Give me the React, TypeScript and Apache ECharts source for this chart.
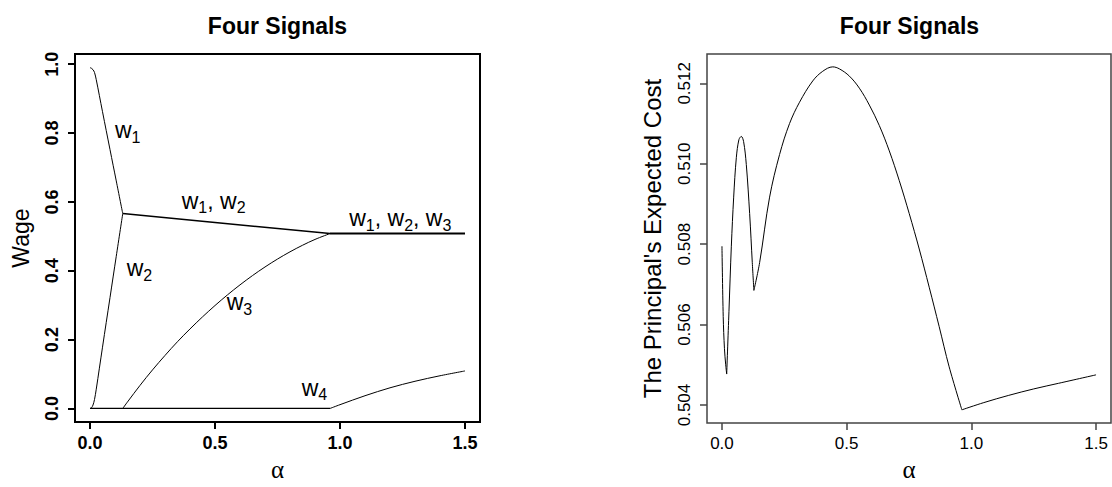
import React, { useEffect, useRef } from 'react';
import * as echarts from 'echarts';

const TITLE = 'Four Signals';
const X_NAME = 'α';
const LEFT_Y_NAME = 'Wage';
const RIGHT_Y_NAME = "The Principal's Expected Cost";
const X_TICKS = [0, 0.5, 1.0, 1.5];
const WAGE_TICKS = [0, 0.2, 0.4, 0.6, 0.8, 1.0];
const COST_TICKS = [0.504, 0.506, 0.508, 0.51, 0.512];

// Left panel: pieces of the wage curves between kinks
const W1_BRANCH: number[][] = [
  [0, 0.99], [0.006, 0.988], [0.012, 0.984], [0.018, 0.976], [0.025, 0.955],
  [0.05, 0.862], [0.08, 0.752], [0.105, 0.661], [0.131, 0.566],
];
const W2_BRANCH: number[][] = [
  [0, 0], [0.006, 0.002], [0.012, 0.01], [0.018, 0.026], [0.025, 0.056],
  [0.05, 0.178], [0.08, 0.322], [0.105, 0.442], [0.131, 0.566],
];
const W12_LINE: number[][] = [[0.131, 0.566], [0.5, 0.54], [0.96, 0.508]];
const W123_LINE: number[][] = [[0.96, 0.508], [1.5, 0.508]];
const W3_BRANCH: number[][] = [
  [0.131, 0], [0.15, 0.019], [0.2, 0.067], [0.25, 0.112], [0.3, 0.154],
  [0.35, 0.194], [0.4, 0.231], [0.45, 0.266], [0.5, 0.299], [0.55, 0.33],
  [0.6, 0.359], [0.65, 0.386], [0.7, 0.411], [0.75, 0.434], [0.8, 0.455],
  [0.85, 0.474], [0.9, 0.491], [0.96, 0.508],
];
const ZERO_LINE: number[][] = [[0, 0], [0.96, 0]];
const W4_BRANCH: number[][] = [
  [0.96, 0], [1.0, 0.011], [1.1, 0.037], [1.2, 0.06], [1.3, 0.079],
  [1.4, 0.095], [1.5, 0.109],
];

// Right panel: expected cost, pieces between kinks
const COST_A: number[][] = [
  [0, 0.50795], [0.005, 0.5062], [0.01, 0.5054], [0.015, 0.505], [0.019, 0.50477],
];
const COST_B: number[][] = [
  [0.019, 0.50477], [0.028, 0.50632], [0.0376, 0.50795], [0.047, 0.50917],
  [0.0576, 0.51015], [0.068, 0.5106], [0.0776, 0.51068], [0.0868, 0.51055],
  [0.0976, 0.50998], [0.111, 0.50876], [0.1216, 0.50754], [0.128, 0.50685],
];
const COST_C: number[][] = [
  [0.128, 0.50685], [0.151, 0.50754], [0.191, 0.50917], [0.231, 0.51023],
  [0.271, 0.511], [0.311, 0.51153], [0.364, 0.51206], [0.404, 0.5123],
  [0.444, 0.51241], [0.471, 0.51236], [0.511, 0.51218], [0.551, 0.51188],
  [0.591, 0.51146], [0.631, 0.51095], [0.671, 0.51032], [0.711, 0.50958],
  [0.751, 0.50876], [0.791, 0.50788], [0.831, 0.50693], [0.871, 0.50595],
  [0.911, 0.50495], [0.962, 0.50388],
];
const COST_D: number[][] = [
  [0.962, 0.50388], [1.05, 0.50406], [1.15, 0.50424], [1.25, 0.5044],
  [1.35, 0.50454], [1.5, 0.50475],
];

// curve annotations: subscripts and data-space anchor (left edge, centre of "w")
const W_LABEL_SUBS: string[][] = [['1'], ['1', '2'], ['1', '2', '3'], ['2'], ['3'], ['4']];
const W_LABEL_AT: number[][] = [
  [0.1, 0.803], [0.367, 0.598], [1.037, 0.547], [0.147, 0.402], [0.547, 0.302], [0.847, 0.054],
];

const SANS = '"Liberation Sans", Arial, Helvetica, sans-serif';
const SERIF = '"Liberation Serif", "Times New Roman", serif';

function lineSeries(data: number[][], idx: number, width = 1, smooth: number | boolean = 0.35) {
  return {
    type: 'line',
    data,
    xAxisIndex: idx,
    yAxisIndex: idx,
    showSymbol: false,
    symbol: 'none',
    silent: true,
    smooth,
    lineStyle: { color: '#000', width },
    emphasis: { disabled: true },
  };
}

function xAxis(gridIndex: number, bold: boolean, color: string, fs: number) {
  return {
    type: 'value',
    gridIndex,
    min: -0.06,
    max: 1.56,
    splitLine: { show: false },
    axisLine: { show: false, onZero: false },
    axisTick: { show: true, customValues: X_TICKS, length: 7, lineStyle: { color, width: bold ? 2 : 1.5 } },
    axisLabel: {
      customValues: X_TICKS,
      formatter: (v: number) => v.toFixed(1),
      margin: 12,
      fontSize: fs,
      fontWeight: bold ? 'bold' : 'normal',
      fontFamily: SANS,
      color: '#000',
    },
    name: X_NAME,
    nameLocation: 'middle',
    nameGap: 30,
    nameTextStyle: { fontFamily: SERIF, fontSize: 25, color: '#000' },
  };
}

export default function App() {
  const ref = useRef<HTMLDivElement>(null);
  useEffect(() => {
    if (!ref.current) return;
    const chart = echarts.init(ref.current, undefined, { renderer: 'svg' });
    chart.setOption({
      animation: false,
      backgroundColor: '#fff',
      grid: [
        { left: 75, top: 54, width: 405, height: 376, show: true, borderColor: '#000', borderWidth: 2, backgroundColor: 'transparent' },
        { left: 707, top: 54, width: 404, height: 376, show: true, borderColor: '#444', borderWidth: 1.5, backgroundColor: 'transparent' },
      ],
      xAxis: [xAxis(0, true, '#000', 18), xAxis(1, false, '#444', 17)],
      yAxis: [
        {
          type: 'value', gridIndex: 0, min: -0.0396, max: 1.0296,
          splitLine: { show: false }, axisLine: { show: false, onZero: false },
          axisTick: { show: true, customValues: WAGE_TICKS, length: 7, lineStyle: { color: '#000', width: 2 } },
          axisLabel: {
            customValues: WAGE_TICKS, rotate: 90, margin: 14,
            formatter: (v: number) => v.toFixed(1),
            fontSize: 18, fontWeight: 'bold', fontFamily: SANS, color: '#000',
          },
          name: LEFT_Y_NAME, nameLocation: 'middle', nameRotate: 90, nameGap: 43,
          nameTextStyle: { fontFamily: SANS, fontSize: 23, color: '#000' },
        },
        {
          type: 'value', gridIndex: 1, min: 0.50355, max: 0.51273,
          splitLine: { show: false }, axisLine: { show: false, onZero: false },
          axisTick: { show: true, customValues: COST_TICKS, length: 7, lineStyle: { color: '#444', width: 1.5 } },
          axisLabel: {
            customValues: COST_TICKS, rotate: 90, margin: 14,
            formatter: (v: number) => v.toFixed(3),
            fontSize: 17, fontFamily: SANS, color: '#000',
          },
          name: RIGHT_Y_NAME, nameLocation: 'middle', nameRotate: 90, nameGap: 43,
          nameTextStyle: { fontFamily: SANS, fontSize: 24, color: '#000' },
        },
      ],
      series: [
        lineSeries(W1_BRANCH, 0), lineSeries(W2_BRANCH, 0),
        lineSeries(W12_LINE, 0, 1.5, false), lineSeries(W123_LINE, 0, 2, false),
        lineSeries(W3_BRANCH, 0), lineSeries(ZERO_LINE, 0, 1.3, false),
        lineSeries(W4_BRANCH, 0),
        lineSeries(COST_A, 1), lineSeries(COST_B, 1), lineSeries(COST_C, 1), lineSeries(COST_D, 1),
      ],
    });

    const rich = {
      w: { fontSize: 23, fontFamily: SANS, fill: '#000', color: '#000', lineHeight: 30 },
      s: { fontSize: 16, fontFamily: SANS, fill: '#000', color: '#000', lineHeight: 18, verticalAlign: 'bottom' },
    };
    const labels = W_LABEL_SUBS.map((subs, i) => {
      const p = chart.convertToPixel({ xAxisIndex: 0, yAxisIndex: 0 }, W_LABEL_AT[i]) as number[];
      const text = subs.map((s, k) => (k === 0 ? '{w|w}' : '{w|, w}') + '{s|' + s + '}').join('');
      return {
        type: 'text', x: p[0], y: p[1] - 2, silent: true,
        style: { text, rich, align: 'left', verticalAlign: 'middle', fill: '#000' },
      };
    });
    const titles = [277.5, 909.5].map((cx) => ({
      type: 'text', x: cx, y: 26, silent: true,
      style: {
        text: TITLE, align: 'center', verticalAlign: 'middle', fill: '#000',
        fontSize: 23, fontWeight: 'bold', fontFamily: SANS,
      },
    }));
    chart.setOption({ graphic: [...titles, ...labels] });
    return () => chart.dispose();
  }, []);
  return (
    <div
      ref={ref}
      style={{ position: 'fixed', left: 0, top: 0, width: 1112, height: 487, background: '#fff' }}
    />
  );
}
